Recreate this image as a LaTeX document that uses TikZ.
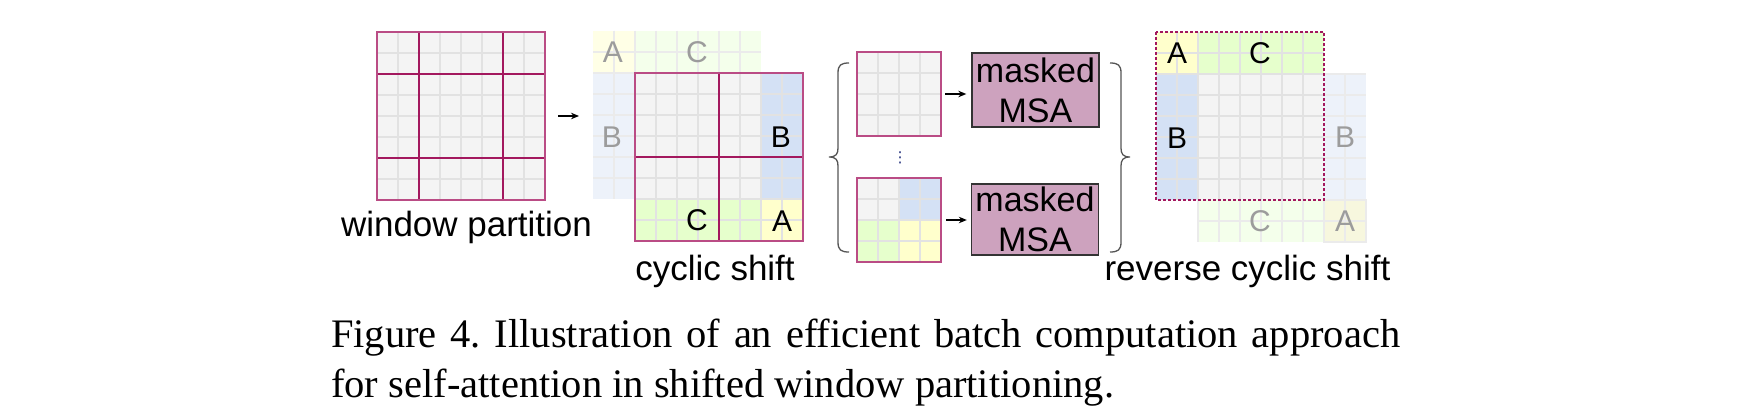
\documentclass[tikz,border=0pt]{standalone}
\usepackage{fontspec}
\setmainfont{Liberation Serif}
\newfontfamily\arialf{Liberation Sans}
\newfontfamily\dejavuf{DejaVu Sans}
\usetikzlibrary{arrows.meta}
\definecolor{cellgray}{HTML}{F4F4F4}
\definecolor{gridln}{HTML}{E2E2E2}
\definecolor{fgridln}{HTML}{EBEBEB}
\definecolor{winpink}{HTML}{A3185E}
\definecolor{bordpink}{HTML}{BA4C85}
\definecolor{cblue}{HTML}{D4E1F5}
\definecolor{cgreen}{HTML}{E6FFCC}
\definecolor{cyellow}{HTML}{FFFFCC}
\definecolor{fblue}{HTML}{EDF2FA}
\definecolor{fgreen}{HTML}{F4FFEB}
\definecolor{fyellow}{HTML}{FFFFE6}
\definecolor{fyellowb}{HTML}{F7F7DE}
\definecolor{msafill}{HTML}{CDA2BE}
\definecolor{bracegray}{HTML}{555555}
\definecolor{fadetext}{HTML}{9C9C9C}
\definecolor{dotblue}{HTML}{1F2D7A}
\tikzset{
  gridbox/.style={minimum width=168pt, minimum height=168pt, inner sep=0pt, fill=cellgray},
  smallbox/.style={minimum width=84pt, minimum height=84pt, inner sep=0pt, fill=cellgray},
  gline/.style={draw=gridln, line width=1.2pt},
  fgline/.style={draw=fgridln, line width=1.2pt},
  winline/.style={draw=winpink, line width=1.3pt},
  border/.style={draw=bordpink, line width=1.6pt},
  dashborder/.style={draw=winpink, line width=1.4pt, dash pattern=on 3pt off 2pt},
  lettr/.style={font=\arialf\fontsize{30}{30}\selectfont, inner sep=0pt},
  fadelettr/.style={lettr, text=fadetext},
  lbl/.style={font=\arialf\fontsize{35}{40}\selectfont, inner sep=0pt, anchor=base},
  msa/.style={draw=black!80, line width=1.4pt, fill=msafill, inner sep=0pt,
    minimum width=127pt, align=center, font=\arialf\fontsize{34}{40}\selectfont},
  arr/.style={-{Stealth[length=8pt,width=6.5pt]}, line width=1.3pt, black},
  brace/.style={draw=bracegray, line width=1.3pt},
}
\begin{document}
\begin{tikzpicture}[x=1pt,y=-1pt]
\useasboundingbox[fill=white] (0,0) rectangle (1746,420);

% ---------- window partition ----------
\begin{scope}[shift={(377,32)},x=21pt,y=-21pt]
  \node[gridbox] (wp) at (4,4) {};
  \foreach \i in {1,...,7} \draw[gline] (\i,0)--(\i,8) (0,\i)--(8,\i);
  \draw[winline] (2,0)--(2,8) (6,0)--(6,8) (0,2)--(8,2) (0,6)--(8,6);
  \draw[border] (0,0) rectangle (8,8);
\end{scope}
\node[lbl] (lwp) at (466.5,236.7) {window partition};

% ---------- cyclic shift: faded original position ----------
\begin{scope}[shift={(593,31)},x=21pt,y=-21pt]
  \coordinate (csfw) at (0,4);
  \fill[fyellow] (0,0) rectangle (2,2);
  \fill[fgreen] (2,0) rectangle (8,2);
  \fill[fblue] (0,2) rectangle (2,8);
  \foreach \i in {1,...,7} \draw[fgline] (\i,0)--(\i,2);
  \foreach \i in {2,...,7} \draw[fgline] (0,\i)--(2,\i);
  \draw[fgline] (0,1)--(8,1) (1,0)--(1,8);
  \node[fadelettr] (fa1) at (0.95,1) {A};
  \node[fadelettr] (fc1) at (4.95,1) {C};
  \node[fadelettr] (fb1) at (0.9,5.05) {B};
\end{scope}

% ---------- cyclic shift: shifted map ----------
\begin{scope}[shift={(635,73)},x=21pt,y=-21pt]
  \node[gridbox] (cs) at (4,4) {};
  \fill[cblue] (6,0) rectangle (8,6);
  \fill[cgreen] (0,6) rectangle (6,8);
  \fill[cyellow] (6,6) rectangle (8,8);
  \foreach \i in {1,...,7} \draw[gline] (\i,0)--(\i,8) (0,\i)--(8,\i);
  \draw[winline] (4,0)--(4,8) (0,4)--(8,4);
  \draw[border] (0,0) rectangle (8,8);
  \node[lettr] (cb) at (6.95,3.05) {B};
  \node[lettr] (cc) at (2.95,7) {C};
  \node[lettr] (ca) at (7,7.05) {A};
\end{scope}
\node[lbl] (lcs) at (715,280.5) {cyclic shift};

\draw[arr, shorten <=13pt, shorten >=14pt] (wp.east) -- (wp.east -| csfw);

% ---------- batched windows ----------
\begin{scope}[shift={(857,52)},x=21pt,y=-21pt]
  \node[smallbox] (sg1) at (2,2) {};
  \foreach \i in {1,...,3} \draw[gline] (\i,0)--(\i,4) (0,\i)--(4,\i);
  \draw[border] (0,0) rectangle (4,4);
\end{scope}
\begin{scope}[shift={(857,178)},x=21pt,y=-21pt]
  \node[smallbox] (sg2) at (2,2) {};
  \fill[cblue] (2,0) rectangle (4,2);
  \fill[cgreen] (0,2) rectangle (2,4);
  \fill[cyellow] (2,2) rectangle (4,4);
  \foreach \i in {1,...,3} \draw[gline] (\i,0)--(\i,4) (0,\i)--(4,\i);
  \draw[border] (0,0) rectangle (4,4);
\end{scope}
\node[inner sep=0pt, text=dotblue, font=\dejavuf\fontsize{15}{15}\selectfont] (dots) at (900,158) {⋮};

\node[msa, minimum height=74pt] (m1) at (1035.5,90) {masked\\MSA};
\node[msa, minimum height=71pt] (m2) at (1035,219.5) {masked\\MSA};

\draw[arr, shorten <=4pt, shorten >=5pt] (sg1.east) -- (sg1.east -| m1.west);
\draw[arr, shorten <=5pt, shorten >=4pt] (sg2.east) -- (sg2.east -| m2.west);

% braces
\draw[brace] (849,63) .. controls (841,63) and (838,65) .. (838,73) -- (838,148)
  .. controls (838,154) and (836,157) .. (829,157)
  .. controls (836,157) and (838,160) .. (838,166) -- (838,242)
  .. controls (838,250) and (841,252) .. (849,252);
\draw[brace] (1110,63) .. controls (1118,63) and (1121,65) .. (1121,73) -- (1121,148)
  .. controls (1121,154) and (1123,157) .. (1130,157)
  .. controls (1123,157) and (1121,160) .. (1121,166) -- (1121,242)
  .. controls (1121,250) and (1118,252) .. (1110,252);

% ---------- reverse cyclic shift ----------
\begin{scope}[shift={(1156,32)},x=21pt,y=-21pt]
  \fill[fblue] (8,2) rectangle (10,8);
  \fill[fgreen] (2,8) rectangle (8,10);
  \fill[fyellowb] (8,8) rectangle (10,10);
  \foreach \i in {3,...,7} \draw[fgline] (8,\i)--(10,\i);
  \foreach \i in {3,...,7} \draw[fgline] (\i,8)--(\i,10);
  \draw[fgline] (9,2)--(9,10) (2,9)--(10,9) (8,2)--(10,2) (2,8)--(2,10);
  \draw[fgline] (8,8) rectangle (10,10);
  \node[gridbox] (rv) at (4,4) {};
  \fill[cyellow] (0,0) rectangle (2,2);
  \fill[cgreen] (2,0) rectangle (8,2);
  \fill[cblue] (0,2) rectangle (2,8);
  \foreach \i in {1,...,7} \draw[gline] (\i,0)--(\i,8) (0,\i)--(8,\i);
  \draw[dashborder] (0,0) rectangle (8,8);
  \node[lettr] (ra) at (1,1.02) {A};
  \node[lettr] (rc) at (4.95,1) {C};
  \node[lettr] (rb) at (1,5.05) {B};
  \node[fadelettr] (rfb) at (9,5) {B};
  \node[fadelettr] (rfc) at (4.95,9.03) {C};
  \node[fadelettr] (rfa) at (9,9.03) {A};
\end{scope}
\node[lbl] (lrv) at (1247.5,280.5) {reverse cyclic shift};

% ---------- caption ----------
\node[anchor=north west, text width=1069pt, align=justify, inner sep=0pt,
  font=\fontsize{40.5}{50}\selectfont\frenchspacing] (cap) at (331,319)
  {Figure 4. Illustration of an efficient batch computation approach\linebreak
   for self-attention in shifted window partitioning.};
\end{tikzpicture}
\end{document}
